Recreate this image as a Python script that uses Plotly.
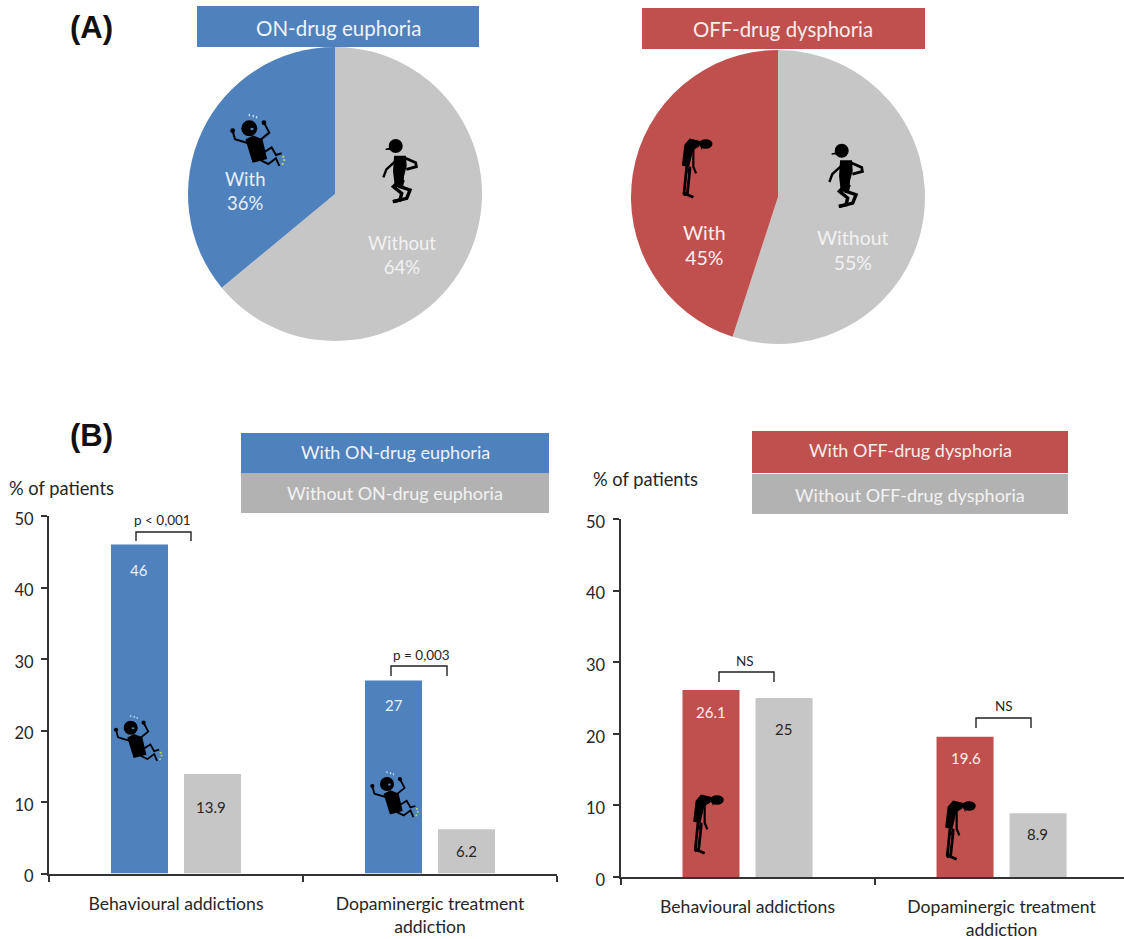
import plotly.graph_objects as go

W, H = 1124, 939
BLUE, RED, PIEGRAY, BOXGRAY = "#4f81bd", "#c0504d", "#c6c6c6", "#b2b2b2"
INK = "#262626"

# ---- data ----
pie_labels = ["Without", "With"]
euphoria_share = [64, 36]
dysphoria_share = [55, 45]
categories = ["Behavioural addictions", "Dopaminergic treatment<br>addiction"]
with_euphoria = [46, 27]
without_euphoria = [13.9, 6.2]
with_dysphoria = [26.1, 19.6]
without_dysphoria = [25, 8.9]
y_ticks = [0, 10, 20, 30, 40, 50]

FONT = "Lato, Carlito, sans-serif"


def px(x):
    return x / W


def py(y):
    return 1 - y / H


fig = go.Figure()


def add_pie(values, color, x0, x1, y0, y1):
    fig.add_trace(go.Pie(
        labels=pie_labels, values=values, sort=False, direction="clockwise",
        rotation=0, textinfo="none", hoverinfo="label+percent",
        marker=dict(colors=[PIEGRAY, color], line=dict(width=0)),
        domain=dict(x=[px(x0), px(x1)], y=[py(y1), py(y0)]), showlegend=False))


add_pie(euphoria_share, BLUE, 188, 482, 47, 341)
add_pie(dysphoria_share, RED, 631, 925, 50, 344)


def add_bars(a, b, color, xa, ya):
    fig.add_trace(go.Bar(x=categories, y=a, marker=dict(color=color, line=dict(width=0)),
                         xaxis=xa, yaxis=ya, showlegend=False))
    fig.add_trace(go.Bar(x=categories, y=b, marker=dict(color=PIEGRAY, line=dict(width=0)),
                         xaxis=xa, yaxis=ya, showlegend=False))


add_bars(with_euphoria, without_euphoria, BLUE, "x", "y")
add_bars(with_dysphoria, without_dysphoria, RED, "x2", "y2")

annotations = []
shapes = []


def text(x, y, s, size=16, color=INK, bold=False, family=FONT):
    annotations.append(dict(
        x=px(x), y=py(y), xref="paper", yref="paper", text=("<b>%s</b>" % s) if bold else s,
        showarrow=False, xanchor="center", yanchor="middle",
        font=dict(family=family, size=size, color=color), align="center"))


def rect(x0, y0, x1, y1, color):
    shapes.append(dict(type="rect", xref="paper", yref="paper", x0=px(x0), x1=px(x1),
                       y0=py(y1), y1=py(y0), fillcolor=color, line=dict(width=0), layer="above"))


def poly(points, fill=None, width=0, color="black", closed=False):
    d = "M " + " L ".join("%.5f,%.5f" % (px(p[0]), py(p[1])) for p in points)
    if closed:
        d += " Z"
    s = dict(type="path", xref="paper", yref="paper", path=d, layer="above",
             line=dict(width=width, color=color))
    if fill:
        s["fillcolor"] = fill
    shapes.append(s)


def blob(cx, cy, rx, ry, color="black"):
    shapes.append(dict(type="circle", xref="paper", yref="paper", x0=px(cx - rx), x1=px(cx + rx),
                       y0=py(cy + ry), y1=py(cy - ry), fillcolor=color, line=dict(width=0), layer="above"))


def place(ox, oy, k):
    return lambda pts: [(ox + p[0] * k / 3, oy + p[1] * k / 3) for p in pts]


def euphoric(ox, oy, k=1.0):
    t = place(ox, oy, k)
    blob(ox, oy, 8 * k, 8 * k)
    poly(t([(-8, 35), (12, 25), (37, 35), (50, 90), (12, 100)]), fill="black", closed=True, width=2 * k)
    w = 2 * k
    poly(t([(-50, 7), (-43, 33), (-3, 45)]), width=w)
    poly(t([(44, -17), (60, 13), (27, 40)]), width=w)
    poly(t([(47, 70), (67, 57), (80, 80), (97, 75)]), width=w)
    poly(t([(32, 95), (57, 107), (80, 90), (90, 113)]), width=w)
    for p in t([(-50, 7), (44, -17)]):
        blob(p[0], p[1], 2.4 * k, 2.4 * k)
    for p in t([(0, -40), (12, -37), (22, -33)]):
        blob(p[0], p[1], 0.8 * k, 1.2 * k, "#bfe3f5")
    for p in t([(102, 85), (105, 95), (100, 107)]):
        blob(p[0], p[1], 1.2 * k, 1.0 * k, "#c4d65e")
    for p in t([(8, 2)]):
        blob(p[0], p[1], 1.6 * k, 1.2 * k, "#4f81bd")


def walker(ox, oy, k=1.0):
    t = place(ox, oy, k)
    blob(ox, oy, 7 * k, 7 * k)
    poly(t([(-30, 10), (-5, 2), (-5, 10)]), fill="black", closed=True, width=1 * k)
    poly(t([(-2, 32), (28, 32), (30, 60), (22, 90), (20, 120), (0, 120), (-5, 75)]),
         fill="black", closed=True, width=2 * k)
    poly(t([(3, 42), (-28, 70), (-37, 94)]), width=2.4 * k)
    poly(t([(30, 37), (60, 50), (62, 62), (32, 70)]), width=2.8 * k)
    poly(t([(3, 112), (-7, 122), (18, 142), (13, 162), (-9, 167)]), width=3.4 * k)
    poly(t([(23, 102), (13, 122), (43, 132), (33, 157), (-7, 167)]), width=3.4 * k)


def slumped(ox, oy, k=1.0):
    t = place(ox, oy, k)
    blob(ox, oy, 6.8 * k, 4.8 * k)
    poly(t([(-17, -7), (-47, -14), (-62, 3), (-69, 63), (-52, 68), (-40, 18), (-22, 6)]),
         fill="black", closed=True, width=1.5 * k)
    poly(t([(-37, 8), (-37, 68), (-29, 88)]), width=2.2 * k)
    poly(t([(-47, 68), (-52, 88)]), width=2.6 * k)
    poly(t([(-57, 68), (-65, 148), (-37, 160)]), width=2.8 * k)
    poly(t([(-47, 73), (-55, 148), (-67, 153)]), width=2.8 * k)
    poly(t([(-12, 6), (-12, 16)]), width=1 * k)


def bracket(x0, x1, top, bottom):
    poly([(x0, bottom), (x0, top), (x1, top), (x1, bottom)], width=1.4, color="#222222")


# panel letters
text(91, 27, "(A)", size=31, bold=True, color="#111111", family="Liberation Sans, Arial, sans-serif")
text(91, 436, "(B)", size=31, bold=True, color="#111111", family="Liberation Sans, Arial, sans-serif")

# pie headers
rect(197, 6, 479, 47, BLUE)
text(338, 28, "ON-drug euphoria", size=20.5, color="#eef3f9")
rect(642, 8, 925, 49, RED)
text(783, 29, "OFF-drug dysphoria", size=20.4, color="#f8ecec")

# pie labels, text built from the share values
text(245, 191, "With<br>%d%%" % euphoria_share[1], size=18.5, color="#e8eff7")
text(402, 255, "Without<br>%d%%" % euphoria_share[0], size=18.5, color="#f2f2f2")
text(704, 245, "With<br>%d%%" % dysphoria_share[1], size=19.5, color="#fbeeee")
text(853, 250, "Without<br>%d%%" % dysphoria_share[0], size=19.5, color="#f2f2f2")

# legend boxes
rect(241, 433, 549, 473, BLUE)
rect(241, 473, 549, 513, BOXGRAY)
text(395, 452, "With ON-drug euphoria", size=18, color="#eef3f9")
text(395, 493, "Without ON-drug euphoria", size=18, color="#f2f2f2")
rect(752, 431, 1068, 473, RED)
rect(752, 474, 1068, 514, BOXGRAY)
text(910, 450, "With OFF-drug dysphoria", size=18, color="#f8ecec")
text(910, 495, "Without OFF-drug dysphoria", size=18, color="#f2f2f2")

text(61, 488, "% of patients", size=18.3)
text(645, 479, "% of patients", size=18.3)

# value labels
text(139, 570, str(with_euphoria[0]), size=15, color="#eaf1f8")
text(211, 807, str(without_euphoria[0]), size=15)
text(394, 705, str(with_euphoria[1]), size=15, color="#eaf1f8")
text(466, 851, str(without_euphoria[1]), size=15)
text(711, 712, str(with_dysphoria[0]), size=15, color="#fbeeee")
text(783, 729, str(without_dysphoria[0]), size=15)
text(966, 758, str(with_dysphoria[1]), size=15, color="#fbeeee")
text(1037, 834, str(without_dysphoria[1]), size=15)

# significance
bracket(136, 191, 532, 541)
text(162, 520, "p &lt; 0,001", size=13.5)
bracket(391, 447, 666, 676)
text(421, 655, "p = 0,003", size=13.5)
bracket(719, 774, 672, 682)
text(745, 661, "NS", size=13.5)
bracket(976, 1031, 718, 728)
text(1004, 706, "NS", size=13.5)

# pictograms
euphoric(249.3, 128.3)
walker(395.7, 146)
slumped(705.7, 144)
walker(841.7, 150.7)
euphoric(130.7, 727.7, 0.88)
euphoric(387, 784, 0.88)
slumped(717, 800)
slumped(969, 806)


def xax(x0, x1, hi):
    return dict(domain=[px(x0), px(x1)], type="category", tickson="boundaries", ticks="outside",
                ticklen=6, tickwidth=1.6, tickcolor="#333333", showline=True, linecolor="#333333",
                linewidth=2, showgrid=False, zeroline=False, ticklabelstandoff=13, automargin=False,
                tickfont=dict(family=FONT, size=17.6, color=INK), range=[-0.5, hi], fixedrange=True)


def yax(y0, y1, anchor):
    return dict(domain=[py(y1), py(y0)], range=[0, 50], tickvals=y_ticks, ticks="outside", ticklen=6,
                tickwidth=1.6, tickcolor="#333333", showline=True, linecolor="#333333", linewidth=2,
                showgrid=False, zeroline=False, anchor=anchor, ticklabelstandoff=4, automargin=False,
                ticklabelshift=3, tickfont=dict(family=FONT, size=16.5, color=INK), fixedrange=True)


x2 = xax(620.5, 1124, 1.482)
x2["anchor"] = "y2"
x1 = xax(49, 557, 1.5)
x1["anchor"] = "y"

fig.update_layout(
    width=W, height=H, margin=dict(l=0, r=0, t=0, b=0), autosize=False,
    paper_bgcolor="white", plot_bgcolor="white", barmode="group", bargap=0.425, bargroupgap=0.219,
    xaxis=x1, yaxis=yax(516, 873.5, "x"), xaxis2=x2, yaxis2=yax(519, 877, "x2"),
    annotations=annotations, shapes=shapes, font=dict(family=FONT))

fig.write_html("out.html", config=dict(displayModeBar=False),
               post_script="document.body.style.margin='0';document.body.style.overflow='hidden';")
